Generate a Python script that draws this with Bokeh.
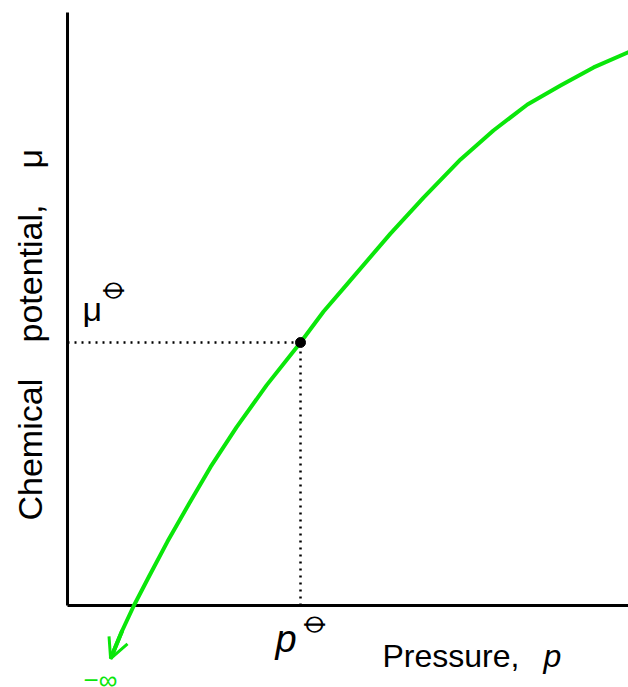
from math import pi

from bokeh.core.properties import value
from bokeh.embed import file_html
from bokeh.models import Arrow, OpenHead, Range1d
from bokeh.plotting import figure
from bokeh.resources import INLINE

# Pressure (in units of the standard pressure p°) and chemical potential
# (in units of the standard value μ°) along the drawn curve, low end first.
pressure = [0.185, 0.235, 0.285, 0.352, 0.429, 0.521, 0.614, 0.725, 0.854,
            1.000, 1.099, 1.202, 1.386, 1.528, 1.687, 1.828, 1.974, 2.116,
            2.258, 2.410]
potential = [-0.202, -0.095, 0.000, 0.114, 0.243, 0.386, 0.527, 0.677, 0.837,
             1.000, 1.118, 1.224, 1.414, 1.551, 1.696, 1.806, 1.905, 1.977,
             2.046, 2.105]

# the standard state marked on the curve
p_std = [1.0]
mu_std = [1.0]

# extent of the drawn axes
x_axis_end = 2.4077
y_axis_end = 2.2548

# words of the potential-axis title
y_title_words = ["Chemical", "potential,", "μ"]

GREEN = "#0ae60a"
FONT = value("Liberation Sans")
SYM_FONT = value("DejaVu Sans")

p = figure(width=628, height=687, output_backend="svg", toolbar_location=None,
           x_range=Range1d(-0.2876, 2.4077), y_range=Range1d(-0.3118, 2.3004),
           x_axis_type=None, y_axis_type=None, min_border=0,
           outline_line_color=None, background_fill_color="white",
           border_fill_color="white")
p.grid.visible = False

# axes drawn as two heavy lines meeting at the origin
p.line([0, 0], [0, y_axis_end], line_color="black", line_width=3)
p.line([0, x_axis_end], [0, 0], line_color="black", line_width=3)

# dotted guides from the standard point to both axes
p.line([0, p_std[0]], [mu_std[0], mu_std[0]], line_color="black",
       line_width=2.5, line_dash="2 5")
p.line([p_std[0], p_std[0]], [0, mu_std[0]], line_color="black",
       line_width=2.5, line_dash="2 5")

# chemical potential curve, heading to minus infinity as p -> 0
p.line(pressure, potential, line_color=GREEN, line_width=4,
       line_join="round")
p.add_layout(Arrow(x_start=pressure[1], y_start=potential[1],
                   x_end=pressure[0], y_end=potential[0],
                   line_color=GREEN, line_width=4,
                   end=OpenHead(size=20, line_color=GREEN, line_width=3)))

p.scatter(p_std, mu_std, size=10, color="black")

# μ° label on the potential axis
p.text(x=[0], y=mu_std, text=["μ"], x_offset=15, y_offset=-34,
       text_font=FONT, text_font_size="34px", text_align="left",
       text_baseline="alphabetic", text_color="black")
p.text(x=[0], y=mu_std, text=["⦵"], x_offset=46, y_offset=-58,
       text_font=SYM_FONT, text_font_size="38px", text_align="center",
       text_baseline="middle", text_color="black")

# p° label on the pressure axis
p.text(x=p_std, y=[0], text=["p"], x_offset=-25, y_offset=34,
       text_font=FONT, text_font_size="38px", text_font_style="italic",
       text_align="left", text_baseline="alphabetic", text_color="black")
p.text(x=p_std, y=[0], text=["⦵"], x_offset=14, y_offset=14,
       text_font=SYM_FONT, text_font_size="38px", text_align="center",
       text_baseline="middle", text_color="black")

# axis titles
p.text(x=[x_axis_end], y=[0], text=["Pressure,"], x_offset=-246, y_offset=51,
       text_font=FONT, text_font_size="32px", text_align="left",
       text_baseline="alphabetic", text_color="black")
p.text(x=[x_axis_end], y=[0], text=["p"], x_offset=-85, y_offset=51,
       text_font=FONT, text_font_size="32px", text_font_style="italic",
       text_align="left", text_baseline="alphabetic", text_color="black")
for word, shift in zip(y_title_words, [-85, -263, -437]):
    p.text(x=[0], y=[0], text=[word], x_offset=-38, y_offset=shift,
           angle=pi / 2, text_font=FONT, text_font_size="34px",
           text_align="left", text_baseline="alphabetic", text_color="black")

# minus infinity at the end of the arrow
p.text(x=[0], y=[0], text=["−∞"], x_offset=16, y_offset=75,
       text_font=FONT, text_font_size="26px", text_align="left",
       text_baseline="alphabetic", text_color=GREEN)

open("out.html", "w").write(file_html(p, INLINE))
